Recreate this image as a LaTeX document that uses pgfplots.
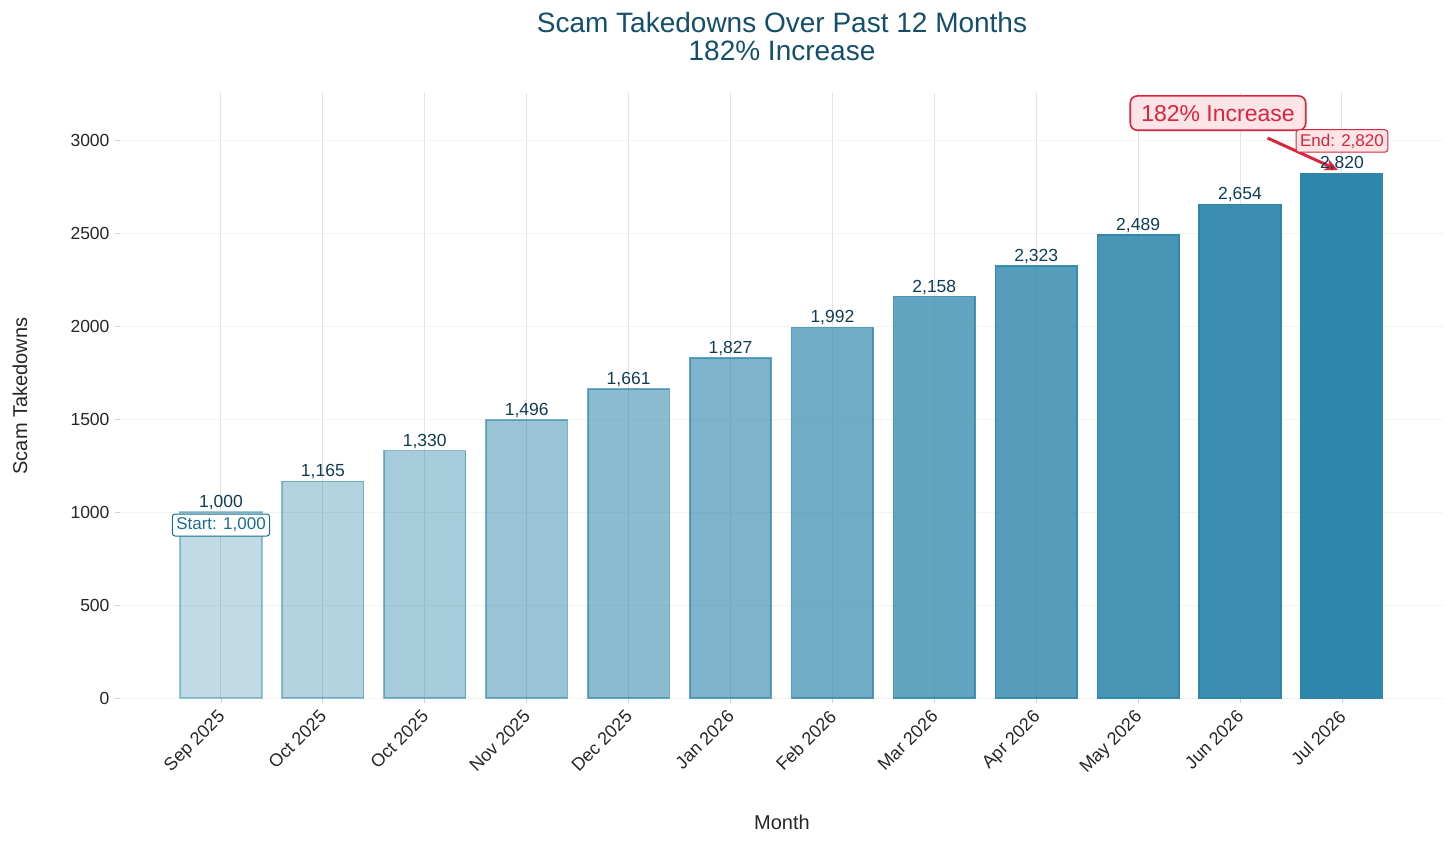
\documentclass[border=0pt]{standalone}
\usepackage{pgfplots}
\pgfplotsset{compat=1.18}
\usetikzlibrary{arrows.meta}
\usepackage{fontspec}
\setmainfont{Liberation Sans}
\definecolor{bar}{HTML}{2E86AB}
\definecolor{ttl}{HTML}{134F6B}
\definecolor{lbl}{HTML}{0F3D54}
\definecolor{grd}{HTML}{E4E2DB}
\definecolor{hgrd}{HTML}{F3F3F0}
\definecolor{red1}{HTML}{D7263D}
\definecolor{pink1}{HTML}{FDE4E7}
\definecolor{teal1}{HTML}{1A6E93}
\pgfplotsset{
  mybar/.style={ybar, bar width=0.8, bar shift=0pt, fill=bar, draw=bar, line width=1.6pt,
    nodes near coords, point meta=y,
    nodes near coords style={font=\fontsize{17.5}{19}\selectfont, text=lbl, anchor=south,
      inner sep=1.5pt, fill opacity=1, draw opacity=1, text opacity=1,
      /pgf/number format/assume math mode=true, /pgf/number format/1000 sep={,}}},
}
\begin{document}
\begin{tikzpicture}[x=1pt,y=1pt]
\useasboundingbox (-120,-146) rectangle (1336,698);
\begin{axis}[at={(0,0)}, anchor=south west, scale only axis,
  width=1323pt, height=605pt,
  xmin=-0.991, xmax=11.992, ymin=0, ymax=3253,
  clip=false,
  axis line style={draw=none},
  xtick={0,...,11},
  xticklabels={Sep 2025,Oct 2025,Oct 2025,Nov 2025,Dec 2025,Jan 2026,Feb 2026,Mar 2026,Apr 2026,May 2026,Jun 2026,Jul 2026},
  ytick={0,500,...,3000},
  xmajorgrids, ymajorgrids,
  x grid style={grd, line width=1pt},
  y grid style={hgrd, line width=0.8pt},
  tick align=outside, major tick length=5pt,
  tick style={draw=black!18, line width=0.8pt},
  xtick pos=bottom, ytick pos=left,
  /pgf/number format/assume math mode=true,
  yticklabel style={font=\fontsize{17.5}{19}\selectfont, /pgf/number format/1000 sep={}, text=black!85, xshift=-2pt},
  xticklabel style={font=\fontsize{18}{20}\selectfont, rotate=45, anchor=north east, inner sep=2pt, xshift=-5pt, yshift=1pt, text=black!85},
]
\addplot[mybar, fill opacity=0.300, draw opacity=0.45] coordinates {(0,1000)};
\addplot[mybar, fill opacity=0.364, draw opacity=0.50] coordinates {(1,1165)};
\addplot[mybar, fill opacity=0.427, draw opacity=0.56] coordinates {(2,1330)};
\addplot[mybar, fill opacity=0.491, draw opacity=0.62] coordinates {(3,1496)};
\addplot[mybar, fill opacity=0.555, draw opacity=0.68] coordinates {(4,1661)};
\addplot[mybar, fill opacity=0.618, draw opacity=0.74] coordinates {(5,1827)};
\addplot[mybar, fill opacity=0.682, draw opacity=0.80] coordinates {(6,1992)};
\addplot[mybar, fill opacity=0.745, draw opacity=0.86] coordinates {(7,2158)};
\addplot[mybar, fill opacity=0.809, draw opacity=0.92] coordinates {(8,2323)};
\addplot[mybar, fill opacity=0.873, draw opacity=0.96] coordinates {(9,2489)};
\addplot[mybar, fill opacity=0.936, draw opacity=1.0] coordinates {(10,2654)};
\addplot[mybar, fill opacity=1.000, draw opacity=1.0] coordinates {(11,2820)};
\node[draw=teal1, fill=white, rounded corners=3pt, line width=1pt, text=teal1,
  font=\fontsize{17}{19}\selectfont, inner xsep=4pt, inner ysep=4pt] at (axis cs:0,930) {Start: 1,000};
\draw[red1, line width=3pt, -{Stealth[length=13pt,width=12pt]}] (axis cs:10.27,3011) -- (axis cs:10.96,2839);
\node[draw=red1, fill=pink1, rounded corners=7pt, line width=1.6pt, text=red1,
  font=\fontsize{23}{26}\selectfont, inner xsep=11pt, inner ysep=9pt] at (axis cs:9.784,3145) {182\% Increase};
\node[draw=red1, fill=pink1, rounded corners=3pt, line width=1pt, text=red1,
  font=\fontsize{17}{19}\selectfont, inner xsep=4pt, inner ysep=4pt] at (axis cs:11,2995) {End: 2,820};
\end{axis}
\node[text=ttl, font=\fontsize{28}{30}\selectfont] at (662,676) {Scam Takedowns Over Past 12 Months};
\node[text=ttl, font=\fontsize{28}{30}\selectfont] at (662,647) {182\% Increase};
\node[rotate=90, font=\fontsize{20}{22}\selectfont, text=black!85] at (-100,302) {Scam Takedowns};
\node[font=\fontsize{20}{22}\selectfont, text=black!85] at (662,-124) {Month};
\end{tikzpicture}
\end{document}
